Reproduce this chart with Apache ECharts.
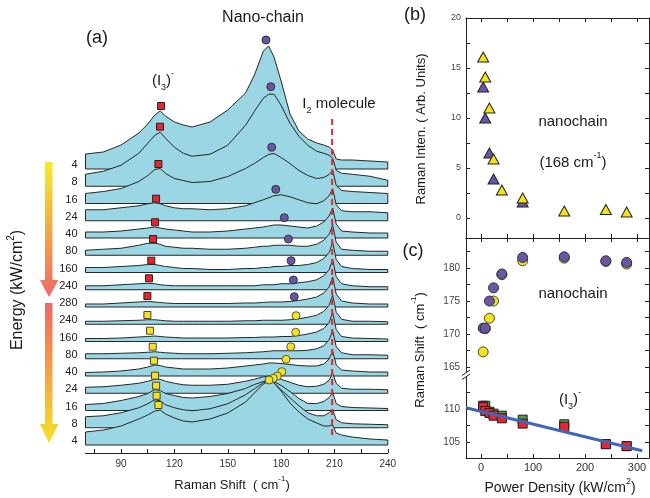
<!DOCTYPE html>
<html>
<head>
<meta charset="utf-8">
<script src="https://cdn.jsdelivr.net/npm/echarts@6/dist/echarts.min.js"></script>
<style>
    html, body { margin: 0; padding: 0; background: #fff; }
    #main { width: 650px; height: 498px; }
</style>
</head>
<body>
<div id="main"></div>
<script>
// (a) spectra: Raman shift samples (cm-1) and intensity of each spectrum (arb. units, above its own baseline)
var shifts = [70, 80, 90, 100, 105, 109, 112, 115, 120, 125, 130, 140, 150, 160, 165, 170, 173, 176, 180, 185, 190, 195, 200, 204, 207, 209, 211, 214, 220, 230, 240];
var energyLabels = ['4', '8', '16', '24', '40', '80', '160', '240', '280', '240', '160', '80', '40', '24', '16', '8', '4'];
var spectra = [
    [15, 17, 24, 36, 45, 54, 58, 53, 47, 44, 42, 47, 59, 76, 94, 118, 123, 112, 88, 55, 38, 30, 26, 24, 22, 19, 10, 9, 9, 8, 7],
    [12, 15, 21, 33, 43, 51, 54, 48, 39, 33, 30, 32, 41, 61, 75, 88, 92, 92, 81, 63, 50, 41, 35, 33, 31, 28, 16, 13, 12, 10, 6],
    [10, 12, 15, 22, 28, 34, 35, 30, 25, 23, 21, 22, 27, 35, 40, 46, 49, 50, 46, 40, 33, 28, 25, 26, 29, 33, 18, 13, 12, 11, 10],
    [11, 11, 13, 15, 17, 18, 17, 15, 13, 12, 12, 11, 12, 15, 18, 21, 23, 25, 26, 24, 21, 18, 17, 20, 25, 32, 16, 10, 9, 9, 8],
    [6, 6, 7, 9, 10, 11, 10, 9, 8, 7, 6, 6, 7, 9, 10, 11, 12, 13, 13, 12, 11, 10, 12, 16, 22, 30, 14, 7, 6, 5, 5],
    [5, 6, 7, 10, 12, 12, 11, 9, 8, 7, 7, 6, 6, 7, 8, 9, 9, 10, 10, 10, 9, 9, 11, 15, 21, 30, 13, 6, 5, 4, 4],
    [5, 5, 6, 7, 8, 8, 7, 6, 5, 4, 4, 3, 3, 4, 4, 5, 5, 6, 6, 7, 7, 8, 10, 14, 20, 30, 13, 6, 4, 3, 3],
    [4, 4, 5, 6, 6.5, 6, 5, 4.5, 4, 4, 4, 4, 4, 4, 4, 5, 5, 5, 6, 6, 7, 8, 10, 14, 20, 30, 13, 6, 4, 3, 3],
    [3, 3, 4, 5, 5.5, 5, 4.5, 4, 3.5, 3.5, 3.5, 3.5, 3.5, 4, 4, 4.5, 5, 5, 5, 5.5, 6.5, 8, 10, 14, 20, 30, 13, 6, 4, 3, 3],
    [3, 3, 3.5, 4, 4.5, 4.5, 4, 3.5, 3, 3, 3, 3, 3, 3.5, 3.5, 4, 4, 4, 4, 4.5, 5.5, 7, 9, 13, 19, 29, 12, 5, 3, 3, 2.5],
    [3, 3, 3.5, 4.5, 5, 5.5, 5, 4.5, 4, 3.5, 3.5, 3.5, 3.5, 4, 4, 4.5, 4.5, 4.5, 5, 5, 6, 7.5, 9.5, 13, 19, 29, 12, 5, 3.5, 3, 2.5],
    [5, 5, 5.5, 6, 6.5, 7, 6.5, 6, 5.5, 5, 5, 5, 5.5, 6, 6.5, 7, 7.5, 8, 8, 8, 8, 8.5, 10, 13, 19, 28, 12, 6, 4, 4, 3.5],
    [3.5, 4, 5, 7, 9, 11, 10.5, 9, 8, 7, 7, 7, 8, 10, 11, 12, 13, 13, 12.5, 11.5, 10.5, 10, 10, 12, 17, 25, 11, 6, 5, 4, 4],
    [6, 6.5, 8, 10, 12, 14, 14, 12, 10, 8.5, 8, 8, 9, 12, 14, 16.5, 17, 16, 14, 11, 8, 6.5, 7, 9, 13, 20, 10, 5, 4, 4, 3.5],
    [6, 7, 10, 14, 17, 21, 20, 17, 15, 13, 12.5, 14, 17, 22, 26, 29, 30, 29, 25, 19, 12, 7, 7, 9, 13, 18, 7, 4, 3, 2.5, 2],
    [11, 12, 15, 20, 24, 28, 27, 23, 20, 18, 17, 19, 24, 33, 39, 45, 47, 45, 38, 30, 22, 15, 12, 12, 15, 18, 8, 5, 4, 3.5, 3],
    [13, 15, 19, 26, 30, 34, 35, 31, 27, 24, 23, 26, 32, 43, 52, 61, 64, 62, 54, 42, 33, 26, 22, 19, 19, 20, 12, 10, 8, 6, 5]
];
var rowStep = 17.25;

// peak markers of (a): [shift, stacked intensity]
var i3HeatPeaks = [[112.5, 339], [111.9, 318.3], [111, 281], [109.7, 246.3], [109.1, 222.7], [108, 206], [107, 184.3], [105.7, 166.7], [104.8, 149]];
var chainHeatPeaks = [[171.5, 405], [174.2, 358.3], [174.7, 297.7], [177, 255.7], [181.8, 227.3], [184.1, 206], [185.6, 184.3], [186.9, 165], [187.4, 148.3]];
var i3CoolPeaks = [[104.8, 130], [106.3, 114.3], [107.8, 98.3], [108.5, 84.3], [109.1, 69.3], [109.7, 59.3], [110, 49.3], [111, 40]];
var chainCoolPeaks = [[188.4, 129.3], [188.2, 112.7], [185.4, 98.3], [182.8, 85.7], [180.4, 73.3], [177.9, 69], [175.6, 66.7], [173.2, 65]];
var i2Line = [[208.7, 10], [208.7, 327]];

// (b) nanochain intensity vs power density
var powerHeat = [4, 8, 16, 24, 80];
var intenHeat = [13.1, 10.0, 6.5, 3.9, 1.6];
var powerAll = [4, 8, 16, 24, 40, 80, 160, 240, 280];
var intenCool = [16.1, 14.1, 11.0, 5.9, 2.8, 2.0, 0.7, 0.85, 0.6];

// (c) peak positions vs power density
var chainCool = [167.3, 170.8, 172.4, 175.0, 179.0, 181.1, 181.5, 181.0, 180.6];
var chainHeat = [170.9, 170.9, 175.0, 177.0, 179.1, 181.6, 181.7, 181.1, 180.85];
var i3Cool = [110.5, 110.5, 109.6, 109.3, 109.0, 108.4, 107.7, 104.7, 104.4];
var i3Heat = [110.3, 109.7, 109.4, 109.0, 108.6, 107.8, 107.3, 104.7, 104.4];
var i3Fit = [[-29, 110.2], [310, 103.7]];

// ticks
var ramanTicks = [75, 90, 105, 120, 135, 150, 165, 180, 195, 210, 225, 240];
var ramanLabels = [90, 120, 150, 180, 210, 240];
var powerTicks = [0, 50, 100, 150, 200, 250, 300];
var powerTickLabels = [0, 100, 200, 300];
var intenTicks = [0, 2.5, 5, 7.5, 10, 12.5, 15, 17.5];
var intenLabels = [0, 5, 10, 15, 20];
var chainTicks = [165, 167.5, 170, 172.5, 175, 177.5, 180, 182.5];
var chainLabels = [165, 170, 175, 180];
var i3Ticks = [105, 107.5, 110, 112.5];
var i3Labels = [105, 110];

(function (win) {
    var FONT = '"Liberation Sans", Arial, Helvetica, sans-serif';
    var INK = '#1a1a1a';
    var last = energyLabels.length - 1;

    function base(i) {
        return (last - i) * rowStep;
    }

    function pair(xs, ys) {
        return xs.map(function (x, k) { return [x, ys[k]]; });
    }

    function rich(size) {
        var small = Math.round(size * 0.62);
        return {
            n: { fontSize: size, lineHeight: size + 8, fontFamily: FONT, color: INK },
            s: { fontSize: small, verticalAlign: 'top', fontFamily: FONT, color: INK },
            b: { fontSize: small, verticalAlign: 'bottom', fontFamily: FONT, color: INK }
        };
    }

    function label(x, y, text, size, rot) {
        return {
            type: 'text', x: x, y: y, rotation: rot || 0, z: 100,
            style: { text: text, rich: rich(size), textAlign: 'center', textVerticalAlign: 'middle', fill: INK }
        };
    }

    function arrow(top, headTop, tip, c1, c2) {
        return {
            type: 'polygon', z: 100,
            shape: { points: [[45, top], [52.5, top], [52.5, headTop], [58.5, headTop], [49, tip], [40, headTop], [45, headTop]] },
            style: { fill: new echarts.graphic.LinearGradient(0, 0, 0, 1, [{ offset: 0, color: c1 }, { offset: 1, color: c2 }]) }
        };
    }

    function frameAxis(extra) {
        var ax = {
            type: 'value',
            axisLine: { show: true, onZero: false, lineStyle: { color: '#222', width: 1 } },
            axisTick: { show: true, inside: true, length: 4, lineStyle: { color: '#222' } },
            axisLabel: { show: false },
            splitLine: { show: false }
        };
        for (var k in extra) ax[k] = extra[k];
        return ax;
    }

    function renderSpectrum(params, api) {
        var i = params.dataIndex,
            b = base(i),
            h = spectra[i],
            pts = [api.coord([shifts[0], b])];
        for (var k = 0; k < shifts.length; k++) {
            pts.push(api.coord([shifts[k], b + h[k]]));
        }
        pts.push(api.coord([shifts[shifts.length - 1], b]));
        return {
            type: 'polygon',
            shape: { points: pts },
            style: { fill: '#9ad6e3', stroke: '#262626', lineWidth: 1 }
        };
    }

    var chart = echarts.init(document.getElementById('main'));

    var lblStyle = { show: true, color: '#444', fontFamily: FONT };

    chart.setOption({
        animation: false,
        textStyle: { fontFamily: FONT },
        grid: [
            { left: 85.5, top: 20, width: 302.3, height: 433 },
            { left: 466, top: 18, width: 183, height: 220 },
            { left: 466, top: 238, width: 183, height: 137 },
            { left: 466, top: 375, width: 183, height: 83 }
        ],
        xAxis: [
            frameAxis({
                gridIndex: 0, min: 70, max: 240,
                axisTick: { show: true, inside: true, length: 4, customValues: ramanTicks, lineStyle: { color: '#222' } },
                axisLabel: { show: true, customValues: ramanLabels, fontSize: 10, color: '#333', margin: 6 }
            }),
            frameAxis({
                gridIndex: 1, min: -29, max: 323,
                axisTick: { show: true, inside: true, length: 4, customValues: powerTicks, lineStyle: { color: '#222' } }
            }),
            frameAxis({
                gridIndex: 1, min: -29, max: 323, position: 'top',
                axisTick: { show: true, inside: true, length: 4, customValues: powerTicks, lineStyle: { color: '#222' } }
            }),
            frameAxis({
                gridIndex: 2, min: -29, max: 323, position: 'top',
                axisTick: { show: true, inside: true, length: 4, customValues: powerTicks, lineStyle: { color: '#222' } }
            }),
            frameAxis({
                gridIndex: 3, min: -29, max: 323,
                axisTick: { show: true, inside: true, length: 4, customValues: powerTicks, lineStyle: { color: '#222' } },
                axisLabel: { show: true, customValues: powerTickLabels, fontSize: 11, color: '#333', margin: 4 }
            })
        ],
        yAxis: [
            {
                gridIndex: 0, type: 'value', min: -8, max: 425,
                axisLine: { show: false }, axisTick: { show: false }, splitLine: { show: false },
                axisLabel: {
                    show: true, margin: 8, fontSize: 11, color: '#222',
                    customValues: energyLabels.map(function (l, i) { return base(i) + 4; }),
                    formatter: function (v) {
                        var i = last - Math.round((v - 4) / rowStep);
                        return energyLabels[i] || '';
                    }
                }
            },
            frameAxis({
                gridIndex: 1, min: -2, max: 20,
                axisTick: { show: true, inside: true, length: 4, customValues: intenTicks, lineStyle: { color: '#222' } },
                axisLabel: { show: true, customValues: intenLabels, fontSize: 9, color: '#444', margin: 5 }
            }),
            frameAxis({
                gridIndex: 1, min: -2, max: 20, position: 'right',
                axisTick: { show: true, inside: true, length: 4, customValues: intenTicks, lineStyle: { color: '#222' } }
            }),
            frameAxis({
                gridIndex: 2, min: 163.8, max: 184.55,
                axisTick: { show: true, inside: true, length: 4, customValues: chainTicks, lineStyle: { color: '#222' } },
                axisLabel: { show: true, customValues: chainLabels, fontSize: 10, color: '#444', margin: 6 }
            }),
            frameAxis({
                gridIndex: 2, min: 163.8, max: 184.55, position: 'right',
                axisTick: { show: true, inside: true, length: 4, customValues: chainTicks, lineStyle: { color: '#222' } }
            }),
            frameAxis({
                gridIndex: 3, min: 102.6, max: 115.15,
                axisTick: { show: true, inside: true, length: 4, customValues: i3Ticks, lineStyle: { color: '#222' } },
                axisLabel: { show: true, customValues: i3Labels, fontSize: 10, color: '#444', margin: 6 }
            }),
            frameAxis({
                gridIndex: 3, min: 102.6, max: 115.15, position: 'right',
                axisTick: { show: true, inside: true, length: 4, customValues: i3Ticks, lineStyle: { color: '#222' } }
            })
        ],
        series: [
            {
                type: 'custom', xAxisIndex: 0, yAxisIndex: 0, z: 2,
                data: spectra.map(function (h, i) { return [shifts[0], base(i)]; }),
                renderItem: renderSpectrum
            },
            {
                type: 'line', xAxisIndex: 0, yAxisIndex: 0, z: 3, data: i2Line, symbol: 'none',
                lineStyle: { color: '#e8262b', width: 2, type: [6, 4] }
            },
            {
                type: 'scatter', xAxisIndex: 0, yAxisIndex: 0, z: 4, data: i3HeatPeaks, symbol: 'rect', symbolSize: 7,
                itemStyle: { color: '#e8262b', borderColor: '#222', borderWidth: 1, opacity: 1 }
            },
            {
                type: 'scatter', xAxisIndex: 0, yAxisIndex: 0, z: 4, data: chainHeatPeaks, symbol: 'circle', symbolSize: 8,
                itemStyle: { color: '#6a55a6', borderColor: '#333', borderWidth: 1, opacity: 1 }
            },
            {
                type: 'scatter', xAxisIndex: 0, yAxisIndex: 0, z: 4, data: i3CoolPeaks, symbol: 'rect', symbolSize: 7,
                itemStyle: { color: '#f5e21b', borderColor: '#444', borderWidth: 1, opacity: 1 }
            },
            {
                type: 'scatter', xAxisIndex: 0, yAxisIndex: 0, z: 4, data: chainCoolPeaks, symbol: 'circle', symbolSize: 8,
                itemStyle: { color: '#f5e21b', borderColor: '#555', borderWidth: 1, opacity: 1 }
            },
            {
                type: 'scatter', xAxisIndex: 1, yAxisIndex: 1, data: pair(powerHeat, intenHeat), symbol: 'triangle', symbolSize: [11, 10],
                itemStyle: { color: '#6a55a6', borderColor: '#222', borderWidth: 1, opacity: 1 }
            },
            {
                type: 'scatter', xAxisIndex: 1, yAxisIndex: 1, data: pair(powerAll, intenCool), symbol: 'triangle', symbolSize: [11, 10],
                itemStyle: { color: '#f5e21b', borderColor: '#222', borderWidth: 1, opacity: 1 }
            },
            {
                type: 'scatter', xAxisIndex: 3, yAxisIndex: 3, data: pair(powerAll, chainCool), symbol: 'circle', symbolSize: 10,
                itemStyle: { color: '#f5e21b', borderColor: '#444', borderWidth: 1, opacity: 1 }
            },
            {
                type: 'scatter', xAxisIndex: 3, yAxisIndex: 3, data: pair(powerAll, chainHeat), symbol: 'circle', symbolSize: 10,
                itemStyle: { color: '#6a55a6', borderColor: '#333', borderWidth: 1, opacity: 1 }
            },
            {
                type: 'line', xAxisIndex: 4, yAxisIndex: 5, data: i3Fit, symbol: 'none',
                lineStyle: { color: '#3f66b8', width: 3 }
            },
            {
                type: 'scatter', xAxisIndex: 4, yAxisIndex: 5, data: pair(powerAll, i3Cool), symbol: 'rect', symbolSize: 9,
                itemStyle: { color: '#4c9b3f', borderColor: '#222', borderWidth: 1, opacity: 1 }
            },
            {
                type: 'scatter', xAxisIndex: 4, yAxisIndex: 5, data: pair(powerAll, i3Heat), symbol: 'rect', symbolSize: 9,
                itemStyle: { color: '#e8262b', borderColor: '#222', borderWidth: 1, opacity: 1 }
            }
        ],
        graphic: [
            arrow(162, 280, 297, '#f4ec2a', '#ef6767'),
            arrow(303, 424, 443, '#ef6767', '#f5e126'),
            label(97, 38, '{n|(a)}', 18),
            label(263, 18, '{n|Nano-chain}', 16),
            label(163, 81, '{n|(I}{b|3}{n|)}{s|-}', 15),
            label(339, 104, '{n|I}{b|2}{n| molecule}', 15),
            label(18, 290, '{n|Energy (kW/cm}{s|2}{n|)}', 16, Math.PI / 2),
            label(232, 485, '{n|Raman Shift  ( cm}{s|-1}{n|)}', 13),
            label(415, 15, '{n|(b)}', 18),
            label(413, 251, '{n|(c)}', 18),
            label(421, 129, '{n|Raman Inten. ( Arb. Units)}', 13, Math.PI / 2),
            label(573, 122, '{n|nanochain}', 15),
            label(573, 163, '{n|(168 cm}{s|-1}{n|)}', 15),
            label(420, 350, '{n|Raman Shift  ( cm}{s|-1}{n|)}', 13, Math.PI / 2),
            label(573, 294, '{n|nanochain}', 15),
            label(570, 400, '{n|(I}{b|3}{n|)}{s|-}', 15),
            label(560, 488, '{n|Power Density (kW/cm}{s|2}{n|)}', 14),
            { type: 'rect', z: 100, shape: { x: 463, y: 372.5, width: 6, height: 4.5 }, style: { fill: '#fff' } },
            { type: 'line', z: 101, shape: { x1: 462, y1: 375.5, x2: 470, y2: 370 }, style: { stroke: '#222', lineWidth: 1 } },
            { type: 'line', z: 101, shape: { x1: 462, y1: 379.5, x2: 470, y2: 374 }, style: { stroke: '#222', lineWidth: 1 } }
        ]
    });
})(this);
</script>
</body>
</html>
